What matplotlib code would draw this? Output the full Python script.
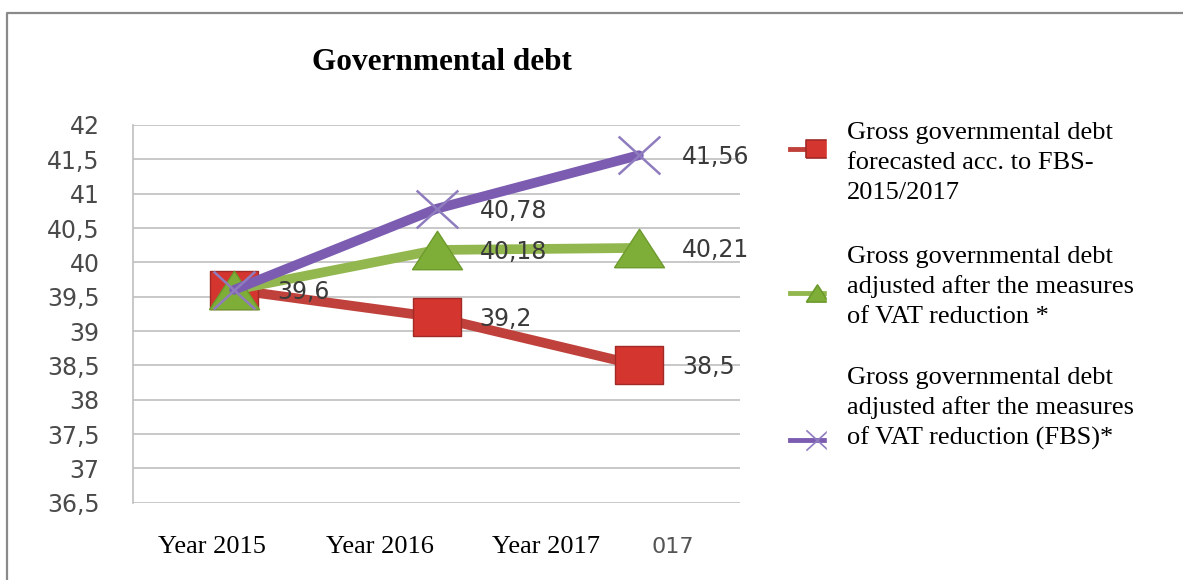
import matplotlib
matplotlib.use("Agg")
import matplotlib.pyplot as plt
from matplotlib.lines import Line2D
from matplotlib.patches import Rectangle
from matplotlib.path import Path

years = ["Year 2015", "Year 2016", "Year 2017"]
forecast_fbs = [39.6, 39.2, 38.5]
adjusted_vat = [39.6, 40.18, 40.21]
adjusted_vat_fbs = [39.6, 40.78, 41.56]
series_names = [
    "Gross governmental debt\nforecasted acc. to FBS-\n2015/2017",
    "Gross governmental debt\nadjusted after the measures\nof VAT reduction *",
    "Gross governmental debt\nadjusted after the measures\nof VAT reduction (FBS)*",
]
yticks = [36.5 + 0.5 * i for i in range(12)]
# the year labels sit a bit left of the points in the original
year_label_pos = [-0.11, 0.72, 1.54]

W, H = 1183, 580
fig = plt.figure(figsize=(W / 100, H / 100), dpi=100)
ax = fig.add_axes([133 / W, 1 - 502.7 / H, (740 - 133) / W, (502.7 - 125) / H])

grid = "#bfbfbf"
ax.set_xlim(-0.5, 2.5)
ax.set_ylim(36.5, 42)
ax.set_yticks(yticks)
ax.set_yticklabels([f"{v:g}".replace(".", ",") for v in yticks],
                   fontsize=17, color="#4a4a4a", family="DejaVu Sans")
ax.tick_params(axis="y", length=0, pad=24)
ax.set_xticks([])
ax.grid(axis="y", color=grid, lw=1.2)
ax.set_axisbelow(True)
for s in ["top", "right", "bottom"]:
    ax.spines[s].set_visible(False)
ax.spines["left"].set_color(grid)
ax.spines["left"].set_linewidth(1.2)

sq = [(-1.26, -1), (1.26, -1), (1.26, 1), (-1.26, 1), (-1.26, -1)]
tri = [(-1.3, -1), (1.3, -1), (0, 1), (-1.3, -1)]
cross = Path([(-1.1, -1), (1.1, 1), (-1.1, 1), (1.1, -1)],
             [Path.MOVETO, Path.LINETO, Path.MOVETO, Path.LINETO])

x = range(len(years))
styles = [
    dict(color="#c0413b", marker=sq, ms=34.5, mfc="#d4352f", mec="#a02a26", mew=1),
    dict(color="#93b74f", marker=tri, ms=36, mfc="#7fae38", mec="#6c9a2c", mew=1),
    dict(color="#7b5cb0", marker=cross, ms=30, mfc="none", mec="#8f7cbf", mew=1.8),
]
for vals, st in zip([forecast_fbs, adjusted_vat, adjusted_vat_fbs], styles):
    ax.plot(x, vals, lw=7, solid_capstyle="round", clip_on=False, **st)

for vals in [forecast_fbs, adjusted_vat, adjusted_vat_fbs]:
    start = 0 if vals is forecast_fbs else 1
    for i in range(start, len(vals)):
        ax.annotate(f"{vals[i]:g}".replace(".", ","), (i, vals[i]),
                    xytext=(31, -1.5), textcoords="offset points",
                    va="center", ha="left", fontsize=17, color="#3a3a3a",
                    family="DejaVu Sans")

for px, lab in zip(year_label_pos, years):
    ax.text(px, -0.117, lab, transform=ax.get_xaxis_transform(),
            ha="center", va="center", fontsize=19, family="Liberation Serif")
# leftover fragment of the original axis label
ax.text(2.17, -0.117, "017", transform=ax.get_xaxis_transform(),
        ha="center", va="center", fontsize=16, color="#555555", family="DejaVu Sans")

fig.text(442 / W, 1 - 62 / H, "Governmental debt", ha="center", va="center",
         fontsize=22.5, fontweight="bold", family="Liberation Serif")

# legend, drawn by hand
leg_y = [149, 293, 440]
for yy, st in zip(leg_y, styles):
    fig.add_artist(Line2D([790 / W, 844 / W], [1 - yy / H] * 2, lw=3.5,
                          color=st["color"]))
    fig.add_artist(Line2D([817 / W], [1 - yy / H], marker=st["marker"], ms=16,
                          mfc=st["mfc"], mec=st["mec"], mew=1.2, ls="none"))
fig.add_artist(Rectangle((827 / W, 1 - 470 / H), 330 / W, 350 / H,
                         transform=fig.transFigure, color="white", zorder=3))
text_top = [133, 257, 378]
for yy, name in zip(text_top, series_names):
    for k, line in enumerate(name.split("\n")):
        fig.text(847 / W, 1 - (yy + 30 * k) / H, line, ha="left", va="center",
                 fontsize=19, family="Liberation Serif", zorder=4)

# outer frame (only top and left edges show)
fig.add_artist(Line2D([7 / W, 7 / W, 1], [0, 1 - 13 / H, 1 - 13 / H],
                      color="#8a8a8a", lw=1.6))

fig.savefig("out.png", dpi=100)
